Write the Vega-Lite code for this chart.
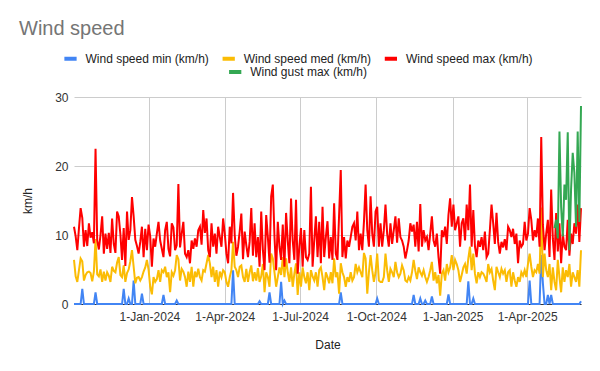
{
"$schema":"https://vega.github.io/schema/vega-lite/v6.json",
"width":507,"height":207,
"autosize":{"type":"none"},
"padding":{"left":74,"top":97,"right":19,"bottom":67},
"background":"white",
"config":{"font":"Liberation Sans","view":{"stroke":null}},
"title":{"text":"Wind speed","anchor":"start","frame":"group","fontSize":20,"fontWeight":"normal","color":"#757575","dx":-55,"offset":11},
"data":{"values":[
{"d":"2023-10-02","n":0,"m":6.4,"x":11.2},{"d":"2023-10-04","n":0,"m":4.0,"x":9.8},{"d":"2023-10-06","n":0,"m":3.2,"x":7.8},{"d":"2023-10-08","n":0,"m":4.9,"x":11.0},{"d":"2023-10-10","n":0,"m":6.6,"x":13.9},{"d":"2023-10-12","n":2.2,"m":6.2,"x":12.5},{"d":"2023-10-14","n":0,"m":3.4,"x":8.3},{"d":"2023-10-16","n":0,"m":4.2,"x":10.7},{"d":"2023-10-18","n":0,"m":4.6,"x":8.4},{"d":"2023-10-20","n":0,"m":4.7,"x":11.7},{"d":"2023-10-22","n":0,"m":4.5,"x":9.6},{"d":"2023-10-24","n":0,"m":3.3,"x":10.4},{"d":"2023-10-26","n":0,"m":4.7,"x":8.8},{"d":"2023-10-28","n":1.7,"m":9.4,"x":22.5},{"d":"2023-10-30","n":0,"m":4.3,"x":9.2},
{"d":"2023-11-01","n":0,"m":4.0,"x":7.9},{"d":"2023-11-03","n":0,"m":5.0,"x":10.0},{"d":"2023-11-05","n":0,"m":3.2,"x":12.7},{"d":"2023-11-07","n":0,"m":4.7,"x":7.3},{"d":"2023-11-09","n":0,"m":3.4,"x":10.2},{"d":"2023-11-11","n":0,"m":4.6,"x":8.0},{"d":"2023-11-13","n":0,"m":4.1,"x":10.3},{"d":"2023-11-15","n":0,"m":3.2,"x":7.4},{"d":"2023-11-17","n":0,"m":5.4,"x":12.4},{"d":"2023-11-19","n":0,"m":4.8,"x":8.7},{"d":"2023-11-21","n":0,"m":4.6,"x":7.4},{"d":"2023-11-23","n":0,"m":6.0,"x":13.4},{"d":"2023-11-25","n":0,"m":6.8,"x":12.7},{"d":"2023-11-27","n":0,"m":4.2,"x":10.1},{"d":"2023-11-29","n":0,"m":3.9,"x":6.4},
{"d":"2023-12-01","n":2.2,"m":5.6,"x":11.0},{"d":"2023-12-03","n":0,"m":3.2,"x":5.5},{"d":"2023-12-05","n":0,"m":4.5,"x":13.4},{"d":"2023-12-07","n":0.8,"m":5.0,"x":9.3},{"d":"2023-12-09","n":0,"m":6.2,"x":10.7},{"d":"2023-12-11","n":0,"m":7.8,"x":15.5},{"d":"2023-12-13","n":3.4,"m":5.4,"x":12.7},{"d":"2023-12-15","n":0,"m":3.0,"x":9.3},{"d":"2023-12-17","n":0,"m":3.8,"x":8.4},{"d":"2023-12-19","n":0,"m":3.9,"x":7.3},{"d":"2023-12-21","n":0,"m":3.4,"x":9.0},{"d":"2023-12-23","n":1.5,"m":3.9,"x":11.2},{"d":"2023-12-25","n":0,"m":4.7,"x":6.8},{"d":"2023-12-27","n":0,"m":5.3,"x":10.9},{"d":"2023-12-29","n":0,"m":6.4,"x":7.8},{"d":"2023-12-31","n":0,"m":5.0,"x":11.5},
{"d":"2024-01-02","n":0,"m":2.5,"x":9.8},{"d":"2024-01-04","n":0,"m":1.4,"x":5.4},{"d":"2024-01-06","n":0,"m":3.9,"x":9.5},{"d":"2024-01-08","n":0,"m":3.2,"x":8.3},{"d":"2024-01-10","n":0,"m":3.6,"x":10.2},{"d":"2024-01-12","n":0,"m":4.9,"x":11.9},{"d":"2024-01-14","n":0,"m":3.2,"x":9.2},{"d":"2024-01-16","n":0,"m":4.9,"x":8.0},{"d":"2024-01-18","n":1.3,"m":4.6,"x":6.8},{"d":"2024-01-20","n":0,"m":5.4,"x":10.7},{"d":"2024-01-22","n":0,"m":3.9,"x":11.9},{"d":"2024-01-24","n":0,"m":4.6,"x":8.0},{"d":"2024-01-26","n":0,"m":1.7,"x":6.9},{"d":"2024-01-28","n":0,"m":4.6,"x":11.7},{"d":"2024-01-30","n":0,"m":4.1,"x":11.1},
{"d":"2024-02-01","n":0,"m":4.9,"x":7.8},{"d":"2024-02-03","n":0.5,"m":7.1,"x":8.5},{"d":"2024-02-05","n":0,"m":6.5,"x":17.4},{"d":"2024-02-07","n":0,"m":3.4,"x":8.2},{"d":"2024-02-09","n":0,"m":5.1,"x":10.2},{"d":"2024-02-11","n":0,"m":4.7,"x":11.9},{"d":"2024-02-13","n":0,"m":3.9,"x":7.3},{"d":"2024-02-15","n":0,"m":2.5,"x":6.8},{"d":"2024-02-17","n":0,"m":4.7,"x":7.8},{"d":"2024-02-19","n":0,"m":3.2,"x":5.9},{"d":"2024-02-21","n":0,"m":5.4,"x":9.2},{"d":"2024-02-23","n":0,"m":2.5,"x":8.0},{"d":"2024-02-25","n":0,"m":4.7,"x":9.5},{"d":"2024-02-27","n":0,"m":3.9,"x":8.3},{"d":"2024-02-29","n":0,"m":5.1,"x":10.7},
{"d":"2024-03-02","n":0,"m":3.9,"x":11.2},{"d":"2024-03-04","n":0,"m":3.4,"x":8.6},{"d":"2024-03-06","n":0,"m":4.9,"x":13.6},{"d":"2024-03-08","n":0,"m":4.7,"x":10.3},{"d":"2024-03-10","n":0,"m":5.9,"x":12.4},{"d":"2024-03-12","n":0,"m":7.1,"x":7.8},{"d":"2024-03-14","n":0,"m":5.9,"x":6.8},{"d":"2024-03-16","n":0,"m":3.9,"x":11.7},{"d":"2024-03-18","n":0,"m":5.4,"x":8.3},{"d":"2024-03-20","n":0,"m":3.2,"x":10.2},{"d":"2024-03-22","n":0,"m":4.9,"x":7.3},{"d":"2024-03-24","n":0,"m":2.5,"x":11.2},{"d":"2024-03-26","n":0,"m":4.7,"x":9.7},{"d":"2024-03-28","n":0,"m":3.9,"x":8.3},{"d":"2024-03-30","n":0,"m":4.9,"x":12.4},
{"d":"2024-04-01","n":0,"m":4.6,"x":10.2},{"d":"2024-04-03","n":0,"m":3.2,"x":7.3},{"d":"2024-04-05","n":0,"m":2.5,"x":5.9},{"d":"2024-04-07","n":0,"m":3.9,"x":11.2},{"d":"2024-04-09","n":0,"m":4.9,"x":8.8},{"d":"2024-04-11","n":4.9,"m":9.0,"x":16.1},{"d":"2024-04-13","n":0,"m":5.4,"x":10.0},{"d":"2024-04-15","n":0,"m":4.9,"x":7.0},{"d":"2024-04-17","n":0,"m":3.9,"x":8.3},{"d":"2024-04-19","n":0,"m":5.4,"x":10.5},{"d":"2024-04-21","n":0,"m":5.6,"x":13.1},{"d":"2024-04-23","n":0,"m":3.9,"x":6.5},{"d":"2024-04-25","n":0,"m":3.2,"x":10.5},{"d":"2024-04-27","n":0,"m":5.1,"x":8.5},{"d":"2024-04-29","n":0,"m":3.2,"x":6.8},
{"d":"2024-05-01","n":0,"m":4.6,"x":9.0},{"d":"2024-05-03","n":0,"m":5.6,"x":13.9},{"d":"2024-05-05","n":0,"m":3.3,"x":7.0},{"d":"2024-05-07","n":0,"m":4.6,"x":11.7},{"d":"2024-05-09","n":0,"m":3.4,"x":6.8},{"d":"2024-05-11","n":0,"m":5.2,"x":9.7},{"d":"2024-05-13","n":0.4,"m":3.2,"x":5.4},{"d":"2024-05-15","n":0,"m":4.0,"x":13.4},{"d":"2024-05-17","n":0,"m":5.8,"x":7.8},{"d":"2024-05-19","n":0,"m":1.7,"x":4.9},{"d":"2024-05-21","n":0,"m":4.6,"x":12.9},{"d":"2024-05-23","n":0,"m":3.9,"x":9.7},{"d":"2024-05-25","n":1.7,"m":2.5,"x":6.0},{"d":"2024-05-27","n":0,"m":7.3,"x":15.6},{"d":"2024-05-29","n":0,"m":6.6,"x":17.3},{"d":"2024-05-31","n":0,"m":4.6,"x":9.7},
{"d":"2024-06-02","n":0,"m":2.5,"x":4.9},{"d":"2024-06-04","n":0,"m":3.9,"x":11.9},{"d":"2024-06-06","n":0,"m":5.3,"x":8.3},{"d":"2024-06-08","n":3.2,"m":4.2,"x":6.4},{"d":"2024-06-10","n":0,"m":6.8,"x":11.5},{"d":"2024-06-12","n":0.5,"m":3.9,"x":5.4},{"d":"2024-06-14","n":0,"m":6.6,"x":13.2},{"d":"2024-06-16","n":0,"m":4.6,"x":9.2},{"d":"2024-06-18","n":0,"m":3.2,"x":5.9},{"d":"2024-06-20","n":0,"m":5.3,"x":15.3},{"d":"2024-06-22","n":0,"m":2.5,"x":9.2},{"d":"2024-06-24","n":0,"m":4.4,"x":6.4},{"d":"2024-06-26","n":0,"m":5.9,"x":15.1},{"d":"2024-06-28","n":0,"m":1.3,"x":4.4},{"d":"2024-06-30","n":0,"m":4.6,"x":8.3},
{"d":"2024-07-02","n":0,"m":2.5,"x":11.0},{"d":"2024-07-04","n":0,"m":5.3,"x":5.4},{"d":"2024-07-06","n":0,"m":3.9,"x":10.7},{"d":"2024-07-08","n":0,"m":3.0,"x":6.8},{"d":"2024-07-10","n":0,"m":4.6,"x":6.4},{"d":"2024-07-12","n":0,"m":2.0,"x":7.3},{"d":"2024-07-14","n":0,"m":4.9,"x":17.0},{"d":"2024-07-16","n":0,"m":4.0,"x":5.4},{"d":"2024-07-18","n":0,"m":3.4,"x":9.2},{"d":"2024-07-20","n":0,"m":4.6,"x":12.7},{"d":"2024-07-22","n":0,"m":2.5,"x":6.8},{"d":"2024-07-24","n":0,"m":4.9,"x":11.9},{"d":"2024-07-26","n":0,"m":5.3,"x":5.9},{"d":"2024-07-28","n":0,"m":3.9,"x":14.1},{"d":"2024-07-30","n":0,"m":2.0,"x":6.8},
{"d":"2024-08-01","n":0,"m":4.6,"x":9.7},{"d":"2024-08-03","n":0,"m":3.9,"x":12.0},{"d":"2024-08-05","n":0,"m":3.0,"x":6.6},{"d":"2024-08-07","n":0,"m":4.6,"x":9.7},{"d":"2024-08-09","n":0,"m":3.0,"x":6.4},{"d":"2024-08-11","n":0,"m":6.6,"x":14.6},{"d":"2024-08-13","n":0,"m":3.9,"x":7.3},{"d":"2024-08-15","n":0,"m":4.6,"x":6.4},{"d":"2024-08-17","n":0,"m":1.5,"x":12.9},{"d":"2024-08-19","n":1.7,"m":5.9,"x":19.4},{"d":"2024-08-21","n":0,"m":4.6,"x":6.8},{"d":"2024-08-23","n":0,"m":3.9,"x":9.7},{"d":"2024-08-25","n":0,"m":2.5,"x":6.6},{"d":"2024-08-27","n":0,"m":3.9,"x":9.2},{"d":"2024-08-29","n":0,"m":3.2,"x":8.3},{"d":"2024-08-31","n":0,"m":4.6,"x":9.7},
{"d":"2024-09-02","n":0,"m":3.4,"x":11.2},{"d":"2024-09-04","n":0,"m":3.9,"x":11.7},{"d":"2024-09-06","n":0,"m":5.8,"x":9.2},{"d":"2024-09-08","n":0,"m":4.6,"x":13.4},{"d":"2024-09-10","n":0,"m":5.3,"x":7.8},{"d":"2024-09-12","n":0,"m":4.6,"x":10.2},{"d":"2024-09-14","n":0,"m":3.9,"x":7.8},{"d":"2024-09-16","n":0,"m":7.4,"x":11.9},{"d":"2024-09-18","n":0,"m":6.6,"x":17.3},{"d":"2024-09-20","n":0,"m":1.5,"x":10.7},{"d":"2024-09-22","n":0,"m":4.6,"x":8.3},{"d":"2024-09-24","n":0,"m":7.1,"x":15.6},{"d":"2024-09-26","n":0,"m":4.9,"x":10.2},{"d":"2024-09-28","n":0,"m":3.2,"x":8.3},{"d":"2024-09-30","n":0,"m":4.6,"x":13.4},
{"d":"2024-10-02","n":0.8,"m":7.3,"x":14.1},{"d":"2024-10-04","n":0,"m":3.4,"x":8.3},{"d":"2024-10-06","n":0,"m":3.2,"x":11.7},{"d":"2024-10-08","n":0,"m":3.2,"x":8.3},{"d":"2024-10-10","n":0,"m":3.9,"x":10.7},{"d":"2024-10-12","n":0,"m":7.3,"x":14.4},{"d":"2024-10-14","n":0,"m":4.9,"x":10.2},{"d":"2024-10-16","n":0,"m":3.2,"x":8.3},{"d":"2024-10-18","n":0,"m":5.1,"x":11.7},{"d":"2024-10-20","n":0,"m":4.6,"x":8.7},{"d":"2024-10-22","n":0,"m":3.9,"x":10.7},{"d":"2024-10-24","n":0,"m":6.1,"x":12.7},{"d":"2024-10-26","n":0,"m":4.6,"x":8.9},{"d":"2024-10-28","n":0,"m":3.9,"x":12.4},{"d":"2024-10-30","n":0,"m":4.4,"x":9.7},
{"d":"2024-11-01","n":0,"m":5.6,"x":9.2},{"d":"2024-11-03","n":0,"m":4.9,"x":8.3},{"d":"2024-11-05","n":0,"m":3.4,"x":6.6},{"d":"2024-11-07","n":0,"m":3.2,"x":7.8},{"d":"2024-11-09","n":0,"m":3.9,"x":9.2},{"d":"2024-11-11","n":0,"m":3.4,"x":11.7},{"d":"2024-11-13","n":0,"m":4.6,"x":10.5},{"d":"2024-11-15","n":1.3,"m":6.4,"x":11.5},{"d":"2024-11-17","n":0,"m":4.8,"x":8.3},{"d":"2024-11-19","n":0,"m":3.6,"x":11.9},{"d":"2024-11-21","n":0,"m":5.3,"x":7.6},{"d":"2024-11-23","n":0.8,"m":4.6,"x":14.5},{"d":"2024-11-25","n":0,"m":4.1,"x":8.3},{"d":"2024-11-27","n":0,"m":4.9,"x":10.7},{"d":"2024-11-29","n":0.5,"m":3.9,"x":9.2},
{"d":"2024-12-01","n":0,"m":3.2,"x":9.7},{"d":"2024-12-03","n":0,"m":3.9,"x":7.8},{"d":"2024-12-05","n":0,"m":4.9,"x":10.2},{"d":"2024-12-07","n":1.1,"m":6.1,"x":12.7},{"d":"2024-12-09","n":0,"m":3.4,"x":9.2},{"d":"2024-12-11","n":0,"m":4.6,"x":8.3},{"d":"2024-12-13","n":0,"m":3.0,"x":10.2},{"d":"2024-12-15","n":0,"m":4.2,"x":6.8},{"d":"2024-12-17","n":0,"m":1.2,"x":4.4},{"d":"2024-12-19","n":0,"m":4.4,"x":10.7},{"d":"2024-12-21","n":0,"m":4.9,"x":9.7},{"d":"2024-12-23","n":0,"m":3.4,"x":11.2},{"d":"2024-12-25","n":0,"m":5.8,"x":8.7},{"d":"2024-12-27","n":1.4,"m":4.6,"x":12.9},{"d":"2024-12-29","n":0,"m":5.3,"x":15.3},{"d":"2024-12-31","n":0,"m":7.1,"x":11.2},
{"d":"2025-01-02","n":0,"m":4.9,"x":14.4},{"d":"2025-01-04","n":0,"m":6.4,"x":10.7},{"d":"2025-01-06","n":0,"m":5.8,"x":11.7},{"d":"2025-01-08","n":0,"m":4.9,"x":12.7},{"d":"2025-01-10","n":0,"m":3.2,"x":8.3},{"d":"2025-01-12","n":0,"m":4.2,"x":11.7},{"d":"2025-01-14","n":0,"m":5.3,"x":12.4},{"d":"2025-01-16","n":0,"m":5.8,"x":9.2},{"d":"2025-01-18","n":0,"m":4.4,"x":14.4},{"d":"2025-01-20","n":3.3,"m":6.6,"x":10.7},{"d":"2025-01-22","n":0,"m":8.3,"x":17.3},{"d":"2025-01-24","n":0,"m":4.9,"x":8.3},{"d":"2025-01-26","n":0.8,"m":7.3,"x":13.6},{"d":"2025-01-28","n":0,"m":4.4,"x":8.3},{"d":"2025-01-30","n":0,"m":3.0,"x":6.8},
{"d":"2025-02-01","n":0,"m":4.6,"x":9.2},{"d":"2025-02-03","n":0,"m":3.9,"x":8.3},{"d":"2025-02-05","n":0,"m":4.6,"x":9.7},{"d":"2025-02-07","n":0,"m":4.4,"x":7.8},{"d":"2025-02-09","n":0,"m":3.9,"x":10.5},{"d":"2025-02-11","n":0,"m":3.2,"x":6.8},{"d":"2025-02-13","n":0,"m":5.8,"x":7.3},{"d":"2025-02-15","n":0,"m":4.6,"x":10.7},{"d":"2025-02-17","n":0,"m":5.1,"x":14.4},{"d":"2025-02-19","n":0,"m":3.4,"x":11.7},{"d":"2025-02-21","n":0,"m":2.0,"x":8.7},{"d":"2025-02-23","n":0,"m":5.4,"x":13.2},{"d":"2025-02-25","n":0,"m":4.6,"x":9.0},{"d":"2025-02-27","n":0,"m":3.9,"x":7.3},
{"d":"2025-03-01","n":0,"m":5.1,"x":9.0},{"d":"2025-03-03","n":0,"m":4.4,"x":8.2},{"d":"2025-03-05","n":0,"m":4.9,"x":9.4},{"d":"2025-03-07","n":0,"m":3.2,"x":7.8},{"d":"2025-03-09","n":0,"m":4.6,"x":11.2},{"d":"2025-03-11","n":0,"m":4.9,"x":10.7},{"d":"2025-03-13","n":0,"m":2.5,"x":9.7},{"d":"2025-03-15","n":0,"m":4.6,"x":10.9},{"d":"2025-03-17","n":0,"m":3.4,"x":8.7},{"d":"2025-03-19","n":0,"m":2.5,"x":10.2},{"d":"2025-03-21","n":0,"m":3.9,"x":5.9},{"d":"2025-03-23","n":0,"m":3.2,"x":9.2},{"d":"2025-03-25","n":0,"m":4.6,"x":8.3},{"d":"2025-03-27","n":0,"m":4.1,"x":8.7},{"d":"2025-03-29","n":0,"m":4.9,"x":11.9},{"d":"2025-03-31","n":0,"m":3.9,"x":9.2},
{"d":"2025-04-02","n":0,"m":5.8,"x":10.2},{"d":"2025-04-04","n":3.4,"m":7.3,"x":13.9},{"d":"2025-04-06","n":0,"m":5.4,"x":12.2},{"d":"2025-04-08","n":0,"m":3.9,"x":9.2},{"d":"2025-04-10","n":0,"m":4.9,"x":10.7},{"d":"2025-04-12","n":0,"m":4.6,"x":9.7},{"d":"2025-04-14","n":0,"m":5.8,"x":12.4},{"d":"2025-04-16","n":0,"m":4.4,"x":8.3},{"d":"2025-04-18","n":7.1,"m":14.0,"x":24.2},{"d":"2025-04-20","n":3.0,"m":3.9,"x":11.5},{"d":"2025-04-22","n":0,"m":7.3,"x":7.8},{"d":"2025-04-24","n":0,"m":4.9,"x":10.2},{"d":"2025-04-26","n":1.3,"m":3.9,"x":12.2},{"d":"2025-04-28","n":0,"m":5.8,"x":6.8},{"d":"2025-04-30","n":1.3,"m":2.0,"x":16.6},
{"d":"2025-05-02","n":0,"m":5.3,"x":9.5},{"d":"2025-05-04","n":0,"m":3.2,"x":6.4,"g":11.0},{"d":"2025-05-06","n":0,"m":2.0,"x":13.2,"g":12.2},{"d":"2025-05-08","n":0,"m":6.4,"x":7.6,"g":9.5},{"d":"2025-05-10","n":0,"m":3.9,"x":11.7,"g":25.0},{"d":"2025-05-12","n":0,"m":1.7,"x":5.9,"g":14.1},{"d":"2025-05-14","n":0,"m":5.3,"x":10.2,"g":9.8},{"d":"2025-05-16","n":0,"m":3.2,"x":8.3,"g":17.3},{"d":"2025-05-18","n":0,"m":4.9,"x":7.8,"g":15.1},{"d":"2025-05-20","n":0,"m":3.9,"x":12.2,"g":24.9},{"d":"2025-05-22","n":0,"m":5.8,"x":7.0,"g":7.8},{"d":"2025-05-24","n":0,"m":2.5,"x":10.2,"g":16.6},{"d":"2025-05-26","n":0,"m":4.6,"x":8.7,"g":21.9},{"d":"2025-05-28","n":0,"m":3.9,"x":11.7,"g":19.0},{"d":"2025-05-30","n":0,"m":3.2,"x":10.2,"g":11.2},
{"d":"2025-06-01","n":0,"m":4.9,"x":14.4,"g":25.0},{"d":"2025-06-03","n":0,"m":2.5,"x":9.0,"g":11.9},{"d":"2025-06-05","n":0.4,"m":7.8,"x":13.9,"g":28.7}
]},
"transform":[{"fold":["n","m","x","g"],"as":["k","v"]},{"filter":{"field":"v","valid":true}}],
"encoding":{
 "x":{"field":"d","type":"temporal","scale":{"type":"utc","domain":[{"year":2023,"month":10,"date":2,"utc":true},{"year":2025,"month":6,"date":5,"utc":true}]},
  "axis":{"values":[{"year":2024,"month":1,"date":1,"utc":true},{"year":2024,"month":4,"date":1,"utc":true},{"year":2024,"month":7,"date":1,"utc":true},{"year":2024,"month":10,"date":1,"utc":true},{"year":2025,"month":1,"date":1,"utc":true},{"year":2025,"month":4,"date":1,"utc":true}],
  "labelExpr":"utcFormat(datum.value, '%-d-%b-%Y')","labelFontSize":12,"labelColor":"#333","labelPadding":7,"ticks":false,"domainColor":"#333","gridColor":"#cccccc","labelFlush":false,"title":"Date","titleFontSize":12,"titleFontWeight":"normal","titleColor":"#222","titlePadding":17}},
 "y":{"field":"v","type":"quantitative","scale":{"domain":[0,30]},
  "axis":{"values":[0,10,20,30],"title":"km/h","titleFontSize":12,"titleFontWeight":"normal","titleColor":"#222","titlePadding":20,"labelFontSize":12,"labelColor":"#333","labelPadding":6,"ticks":false,"domain":false,"gridColor":"#cccccc"}}
},
"layer":[
 {"transform":[{"filter":"datum.k!='g'"}],
  "mark":{"type":"line","strokeWidth":2},
  "encoding":{"color":{"field":"k","type":"nominal","scale":{"domain":["n","m","x"],"range":["#4285F4","#FBBC04","#FF0000"]},
   "legend":{"orient":"none","legendX":-12,"legendY":-47,"direction":"horizontal","title":null,"symbolType":"stroke","symbolSize":150,"symbolStrokeWidth":4,"labelFontSize":12,"labelColor":"#222","labelOffset":6.5,"columnPadding":5.2,"labelLimit":300,
    "encode":{"symbols":{"update":{"strokeWidth":{"value":4}}}},
    "labelExpr":"datum.label=='n'?'Wind speed min (km/h)':datum.label=='m'?'Wind speed med (km/h)':'Wind speed max (km/h)'"}}}},
 {"transform":[{"filter":"datum.k=='g'"}],
  "mark":{"type":"line","strokeWidth":2},
  "encoding":{"stroke":{"field":"k","type":"nominal","scale":{"domain":["g"],"range":["#34A853"]},
   "legend":{"orient":"none","legendX":152.7,"legendY":-33.5,"direction":"horizontal","title":null,"symbolType":"stroke","symbolSize":150,"symbolStrokeWidth":4,"labelFontSize":12,"labelColor":"#222","labelOffset":6.5,"labelLimit":300,
    "encode":{"symbols":{"update":{"strokeWidth":{"value":4}}}},
    "labelExpr":"'Wind gust max (km/h)'"}}}}
]
}
